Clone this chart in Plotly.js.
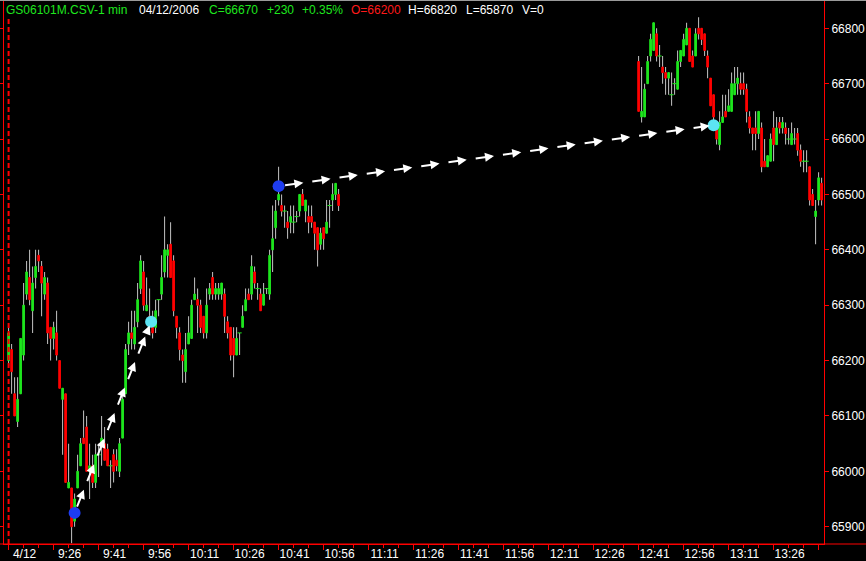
<!DOCTYPE html>
<html><head><meta charset="utf-8">
<script src="https://cdn.plot.ly/plotly-3.0.1.min.js"></script>
<style>html,body{margin:0;padding:0;background:#000;} #chart{width:866px;height:561px;}</style>
</head><body><div id="chart"></div>
<script>
const DAY = '2006-04-12';
const times = [
'09:11','09:12','09:13','09:14','09:15','09:16','09:17','09:18','09:19','09:20',
'09:21','09:22','09:23','09:24','09:25','09:26','09:27','09:28','09:29','09:30',
'09:31','09:32','09:33','09:34','09:35','09:36','09:37','09:38','09:39','09:40',
'09:41','09:42','09:43','09:44','09:45','09:46','09:47','09:48','09:49','09:50',
'09:51','09:52','09:53','09:54','09:55','09:56','09:57','09:58','09:59','10:00',
'10:01','10:02','10:03','10:04','10:05','10:06','10:07','10:08','10:09','10:10',
'10:11','10:12','10:13','10:14','10:15','10:16','10:17','10:18','10:19','10:20',
'10:21','10:22','10:23','10:24','10:25','10:26','10:27','10:28','10:29','10:30',
'10:31','10:32','10:33','10:34','10:35','10:36','10:37','10:38','10:39','10:40',
'10:41','10:42','10:43','10:44','10:45','10:46','10:47','10:48','10:49','10:50',
'10:51','10:52','10:53','10:54','10:55','10:56','10:57','10:58','10:59','11:00','11:01',
'12:41','12:42','12:43','12:44','12:45','12:46','12:47','12:48','12:49','12:50',
'12:51','12:52','12:53','12:54','12:55','12:56','12:57','12:58','12:59','13:00',
'13:01','13:02','13:03','13:04','13:05','13:06','13:07','13:08','13:09','13:10',
'13:11','13:12','13:13','13:14','13:15','13:16','13:17','13:18','13:19','13:20',
'13:21','13:22','13:23','13:24','13:25','13:26','13:27','13:28','13:29','13:30',
'13:31','13:32','13:33','13:34','13:35','13:36','13:37','13:38','13:39','13:40','13:41','13:42'
];
const open = [
66200,66220,66140,66090,66140,66210,66320,66350,66290,66350,
66390,66370,66320,66340,66260,66240,66250,66200,66130,66140,
65970,65970,65910,65970,66010,66060,66080,66000,66010,65980,
66030,66050,66050,66040,66010,66030,66020,66000,66060,66140,
66230,66250,66230,66270,66330,66360,66290,66280,66260,66260,
66310,66320,66360,66390,66410,66380,66280,66250,66210,66180,
66230,66240,66310,66310,66300,66280,66250,66320,66350,66320,
66320,66320,66320,66270,66260,66240,66210,66250,66260,66290,
66320,66320,66360,66330,66320,66300,66330,66320,66400,66440,
66490,66480,66470,66450,66450,66450,66460,66470,66500,66470,
66460,66460,66450,66440,66410,66440,66430,66480,66490,66500,66500,
66740,66640,66640,66700,66750,66760,66790,66750,66730,66720,
66710,66680,66700,66690,66740,66750,66770,66800,66750,66750,
66800,66800,66790,66750,66710,66680,66630,66590,66630,66650,
66650,66650,66680,66700,66700,66700,66690,66640,66620,66620,
66610,66620,66560,66550,66560,66620,66590,66630,66620,66620,
66600,66590,66600,66610,66580,66560,66560,66550,66500,66460,66490,66520
];
const high = [
66260,66230,66170,66170,66240,66340,66380,66400,66370,66400,
66400,66380,66360,66350,66260,66270,66290,66200,66150,66140,
66050,65970,65960,66030,66060,66110,66100,66050,66030,66050,
66050,66100,66080,66050,66020,66040,66040,66060,66140,66230,
66270,66290,66290,66340,66390,66380,66350,66330,66290,66310,
66310,66390,66460,66410,66450,66390,66280,66260,66220,66250,
66280,66310,66350,66330,66310,66280,66330,66340,66360,66340,
66340,66340,66330,66280,66260,66260,66260,66250,66300,66330,
66330,66390,66370,66340,66330,66340,66330,66400,66480,66490,
66550,66500,66480,66470,66480,66480,66470,66500,66510,66490,
66480,66480,66450,66440,66440,66440,66490,66490,66520,66520,66510,
66750,66730,66700,66750,66790,66810,66800,66770,66750,66730,
66720,66720,66710,66760,66760,66790,66810,66800,66760,66800,
66820,66800,66790,66760,66710,66680,66630,66650,66680,66680,
66690,66720,66730,66730,66720,66720,66700,66650,66620,66650,
66650,66630,66600,66570,66610,66650,66640,66640,66640,66630,
66620,66630,66620,66620,66590,66580,66580,66550,66510,66490,66540,66530
];
const low = [
66190,66140,66100,66080,66140,66200,66310,66300,66250,66330,
66360,66280,66310,66230,66200,66220,66200,66150,66030,65980,
65970,65870,65900,65970,66010,66050,66000,65950,65970,65970,
65990,66010,66020,66010,65970,65980,66000,65990,66060,66140,
66210,66220,66220,66260,66320,66290,66290,66250,66240,66250,
66280,66310,66350,66350,66350,66280,66240,66200,66160,66160,
66230,66240,66310,66250,66250,66240,66240,66310,66310,66310,
66310,66310,66250,66240,66200,66170,66210,66210,66260,66290,
66310,66310,66330,66310,66290,66300,66320,66310,66360,66420,
66480,66460,66440,66420,66430,66430,66450,66460,66480,66450,
66430,66440,66400,66370,66400,66400,66430,66440,66470,66490,66470,
66650,66630,66640,66700,66740,66760,66740,66730,66700,66680,
66680,66660,66680,66690,66730,66750,66770,66740,66730,66750,
66780,66770,66750,66710,66660,66630,66590,66580,66630,66640,
66650,66650,66680,66680,66680,66680,66630,66610,66580,66580,
66600,66540,66550,66550,66560,66560,66590,66610,66610,66590,
66590,66590,66590,66570,66550,66540,66540,66480,66480,66410,66480,66480
];
const close = [
66250,66180,66100,66130,66240,66300,66360,66310,66340,66370,
66380,66340,66350,66250,66240,66260,66210,66150,66150,65980,
65980,65900,65950,66000,66050,66050,66000,66010,65980,66030,
66030,66060,66020,66010,66010,66000,66010,66050,66130,66220,
66250,66240,66260,66310,66380,66300,66300,66270,66250,66290,
66310,66350,66400,66400,66350,66290,66260,66220,66200,66220,
66250,66300,66320,66300,66260,66250,66300,66330,66320,66330,
66330,66340,66280,66250,66210,66210,66240,66250,66280,66310,
66310,66370,66340,66330,66290,66320,66330,66390,66420,66470,
66500,66470,66470,66440,66460,66450,66460,66500,66480,66490,
66450,66450,66430,66400,66430,66420,66450,66480,66500,66520,66480,
66650,66650,66690,66740,66780,66810,66750,66750,66720,66710,
66720,66680,66700,66740,66760,66780,66800,66740,66730,66790,
66790,66780,66760,66730,66660,66640,66600,66630,66640,66640,
66660,66700,66700,66710,66690,66690,66650,66620,66610,66610,
66650,66550,66550,66570,66600,66590,66620,66620,66630,66610,
66600,66610,66600,66580,66560,66560,66560,66490,66480,66470,66530,66490
];
// signal points (blue = start, cyan = target) and arrow links between them
const markTimes = ['09:33','09:58:30','10:41','13:06'];
const markPrices = [65925, 66270, 66515, 66625];
const markColors = ['#1e3cf0','#5ce4f4','#1e3cf0','#5ce4f4'];
const arrowLinks = [[0,1],[2,3]];
// axis ticks
const tickTimes = ['09:11','09:26','09:41','09:56','10:11','10:26','10:41','10:56','11:11','11:26','11:41','11:56','12:11','12:26','12:41','12:56','13:11','13:26','13:41'];
const tickText = ['4/12','9:26','9:41','9:56','10:11','10:26','10:41','10:56','11:11','11:26','11:41','11:56','12:11','12:26','12:41','12:56','13:11','13:26',''];
const priceTicks = [65900,66000,66100,66200,66300,66400,66500,66600,66700,66800];
// header line
const headerParts = ['GS06101M.CSV-1 min','04/12/2006','C=66670','+230','+0.35%','O=66200','H=66820','L=65870','V=0'];
const headerColors = ['#1ee61e','#ffffff','#1ee61e','#1ee61e','#1ee61e','#ff1a1a','#ffffff','#ffffff','#ffffff'];

const GREEN = '#1ee61e', RED = '#ff0000', WICK = '#c4c4c4';
function toMs(t){const p=t.split(':').map(Number);return Date.UTC(2006,3,12,p[0],p[1],p[2]||0);}
function msStr(ms){return new Date(ms).toISOString().replace('T',' ').replace('Z','');}
const X = times.map(t => DAY + ' ' + t);

const upX=[],upB=[],upH=[],dnX=[],dnB=[],dnH=[],djX=[],djY=[];
for(let i=0;i<times.length;i++){
  if(close[i]>open[i]){upX.push(X[i]);upB.push(open[i]);upH.push(close[i]-open[i]);}
  else if(close[i]<open[i]){dnX.push(X[i]);dnB.push(close[i]);dnH.push(open[i]-close[i]);}
  else {djX.push(X[i]);djY.push(close[i]);}
}

const W=866,H=561,ML=4,MR=42,MT=0,MB=17;
const PW=W-ML-MR, PH=H-MT-MB;
const xRange=[DAY+' 09:09:28', DAY+' 13:42:48'];
const yRange=[65868.8, 66851.1];

const traces = [
  {type:'bar', x:X, base:low, y:high.map((h,i)=>h-low[i]), width:20000,
   marker:{color:WICK, line:{width:0}}, hoverinfo:'skip'},
  {type:'bar', x:upX, base:upB, y:upH, width:34000,
   marker:{color:GREEN, line:{color:GREEN, width:1}}, hoverinfo:'skip'},
  {type:'bar', x:dnX, base:dnB, y:dnH, width:34000,
   marker:{color:RED, line:{color:RED, width:1}}, hoverinfo:'skip'},
  {type:'scatter', mode:'markers', x:djX, y:djY,
   marker:{symbol:'line-ew', size:3, line:{color:GREEN, width:1}}, hoverinfo:'skip'},
  {type:'scatter', mode:'markers', x:markTimes.map(t=>DAY+' '+t), y:markPrices,
   marker:{size:12, color:markColors, line:{width:0}}, hoverinfo:'skip'}
];

const annotations = [];
const headerX = [5,138,208,266,301,350,407,465,521];
headerParts.forEach((s,i)=>{
  annotations.push({xref:'paper', yref:'paper', x:(headerX[i]-ML-1)/PW, y:1-10/PH,
    xanchor:'left', yanchor:'middle', showarrow:false, text:s,
    font:{family:'Liberation Sans, Arial, sans-serif', size:12, color:headerColors[i]}});
});
// dashed arrow chains
const x0ms=toMs('09:09:28'), x1ms=toMs('13:42:48');
const pxT = PW/(x1ms-x0ms), pxP = PH/(yRange[1]-yRange[0]);
arrowLinks.forEach(([a,b])=>{
  const ta=toMs(markTimes[a]), tb=toMs(markTimes[b]);
  const pa=markPrices[a], pb=markPrices[b];
  const L=Math.hypot((tb-ta)*pxT,(pb-pa)*pxP);
  const period=27.5, len=20, startGap=5, endGap=4;
  for(let s=startGap; s< L-endGap-3; s+=period){
    const e=Math.min(s+len, L-endGap);
    const f0=s/L, f1=e/L;
    annotations.push({xref:'x', yref:'y', axref:'x', ayref:'y',
      x:msStr(ta+(tb-ta)*f1), y:pa+(pb-pa)*f1,
      ax:msStr(ta+(tb-ta)*f0), ay:pa+(pb-pa)*f0,
      text:'', showarrow:true, arrowhead:2, arrowsize:0.9, arrowwidth:2,
      arrowcolor:'#ffffff', standoff:0, startstandoff:0});
  }
});

const layout = {
  width:W, height:H, margin:{l:ML, r:MR, t:MT, b:MB},
  paper_bgcolor:'#000', plot_bgcolor:'#000',
  showlegend:false, barmode:'overlay', hovermode:false,
  font:{family:'Liberation Sans, Arial, sans-serif', size:12, color:'#fff'},
  xaxis:{type:'date', range:xRange, tickmode:'array', tickvals:tickTimes.map(t=>DAY+' '+t), ticktext:tickText,
    ticks:'outside', ticklen:5, tickwidth:1, tickcolor:RED, showline:true, linecolor:RED, linewidth:1,
    showgrid:false, zeroline:false, ticklabelshift:16, ticklabelstandoff:-6, fixedrange:true,
    tickfont:{family:'Liberation Sans, Arial, sans-serif', size:12, color:'#fff'},
    minor:{tickmode:'linear', tick0:DAY+' 09:11', dtick:300000, ticks:'outside', ticklen:3, tickcolor:RED, showgrid:false}},
  yaxis:{side:'right', range:yRange, tickmode:'array', tickvals:priceTicks, ticktext:priceTicks.map(String),
    ticks:'outside', ticklen:4, tickwidth:1, tickcolor:RED, showline:true, linecolor:RED, linewidth:1, mirror:'ticks',
    showgrid:false, zeroline:false, fixedrange:true,
    tickfont:{family:'Liberation Sans, Arial, sans-serif', size:12, color:'#fff'}},
  shapes:[
    {type:'line', xref:'paper', yref:'paper', x0:-ML/PW, x1:(PW+MR)/PW, y0:0, y1:0, line:{color:RED, width:1}},
    {type:'line', xref:'paper', yref:'paper', x0:-ML/PW, x1:(PW+MR)/PW, y0:1, y1:1, line:{color:'#9a9a9a', width:2}},
    {type:'line', xref:'x', yref:'paper', x0:X[0], x1:X[0], y0:0, y1:1-18/PH, line:{color:RED, width:2, dash:'5px,3px'}}
  ],
  annotations:annotations
};
Plotly.newPlot('chart', traces, layout, {staticPlot:true, displayModeBar:false});
</script></body></html>
